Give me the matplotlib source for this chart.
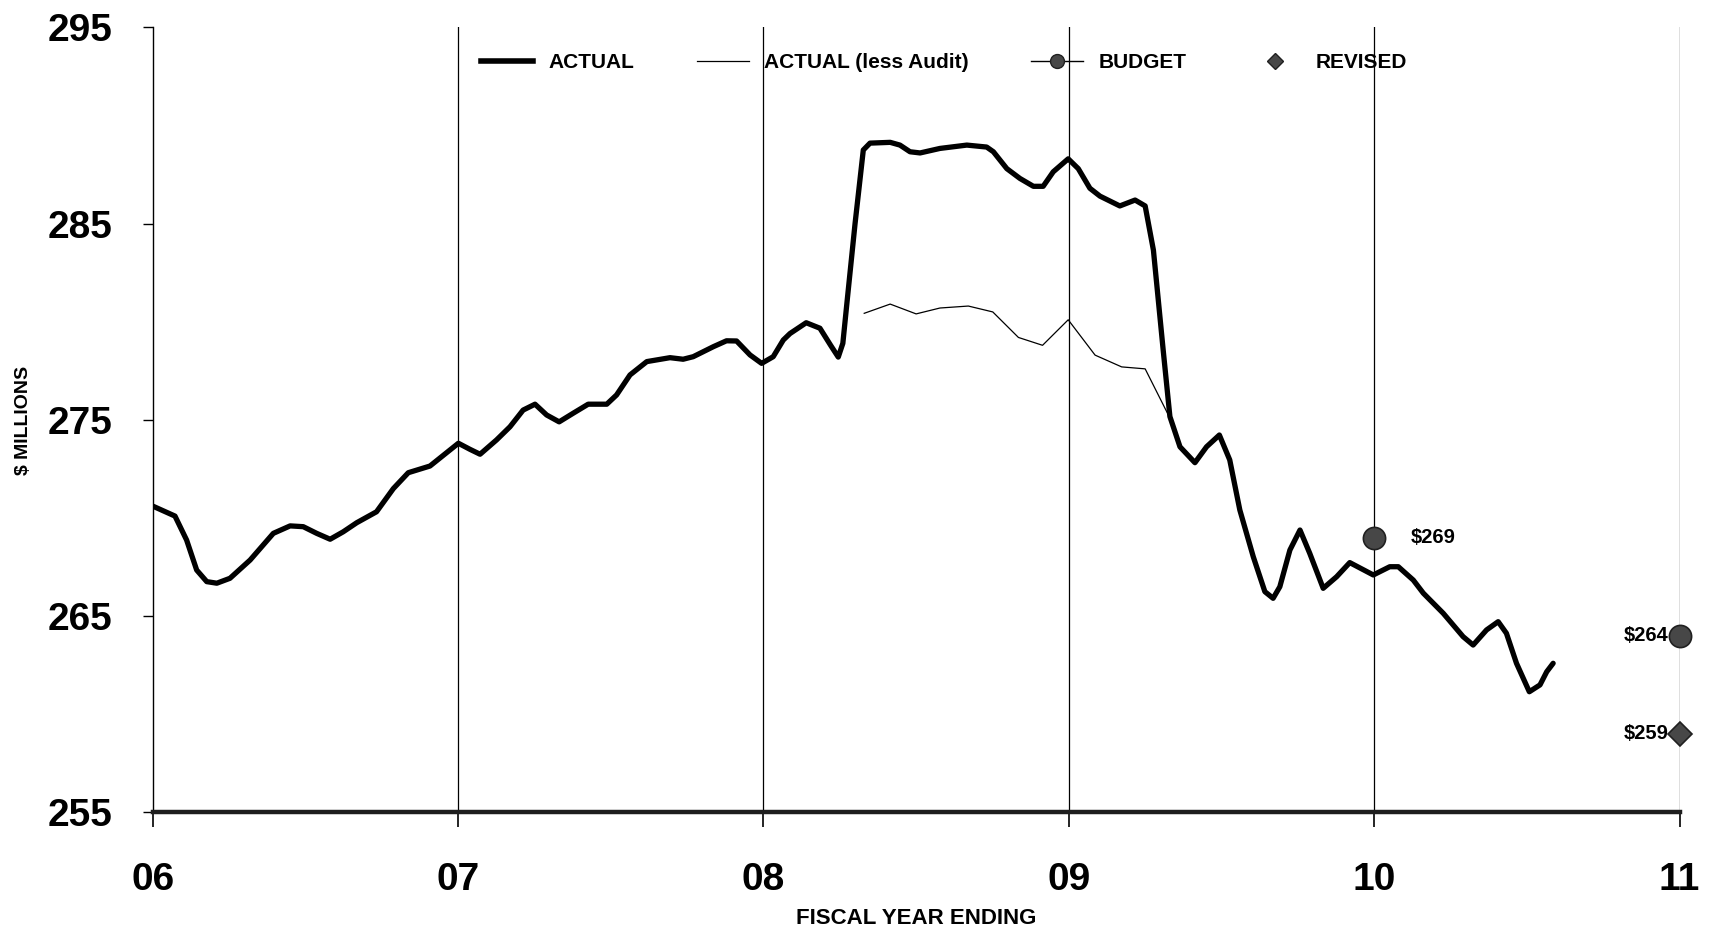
import matplotlib
matplotlib.use("Agg")
import matplotlib.pyplot as plt
from matplotlib.lines import Line2D

plt.rcParams['font.family'] = ['Liberation Sans', 'DejaVu Sans']

# fiscal year (06 = 2006) and $ millions
actual_t = [6.000, 6.073, 6.111, 6.144, 6.177, 6.210, 6.253, 6.319, 6.395, 6.450,
            6.493, 6.537, 6.581, 6.624, 6.668, 6.733, 6.788, 6.837, 6.908, 7.001,
            7.039, 7.072, 7.126, 7.170, 7.213, 7.252, 7.290, 7.331, 7.377, 7.426,
            7.487, 7.519, 7.563, 7.618, 7.694, 7.737, 7.770, 7.836, 7.879, 7.912,
            7.956, 7.994, 8.032, 8.065, 8.087, 8.140, 8.185, 8.220, 8.245, 8.260,
            8.273, 8.300, 8.327, 8.349, 8.415, 8.447, 8.480, 8.513, 8.578, 8.666,
            8.731, 8.753, 8.797, 8.840, 8.884, 8.916, 8.949, 8.998, 9.031, 9.069,
            9.102, 9.167, 9.217, 9.250, 9.277, 9.309, 9.331, 9.364, 9.413, 9.451,
            9.493, 9.527, 9.560, 9.604, 9.642, 9.669, 9.691, 9.724, 9.757, 9.789,
            9.833, 9.877, 9.920, 9.997, 10.051, 10.079, 10.128, 10.161, 10.226, 10.291,
            10.324, 10.368, 10.406, 10.433, 10.466, 10.508, 10.543, 10.565, 10.586]
actual_v = [270.61, 270.10, 268.88, 267.35, 266.76, 266.68, 266.93, 267.86, 269.22, 269.60,
            269.56, 269.22, 268.92, 269.30, 269.76, 270.32, 271.50, 272.31, 272.65, 273.81,
            273.50, 273.25, 273.98, 274.65, 275.50, 275.80, 275.25, 274.90, 275.34, 275.80,
            275.80, 276.27, 277.29, 277.97, 278.17, 278.09, 278.22, 278.73, 279.03, 279.02,
            278.31, 277.88, 278.22, 279.07, 279.40, 279.95, 279.67, 278.80, 278.20, 278.90,
            280.90, 285.00, 288.75, 289.10, 289.14, 289.00, 288.66, 288.60, 288.83, 289.00,
            288.90, 288.66, 287.80, 287.30, 286.90, 286.90, 287.64, 288.30, 287.80, 286.80,
            286.40, 285.90, 286.20, 285.90, 283.65, 278.56, 275.17, 273.63, 272.82, 273.63,
            274.23, 272.96, 270.41, 268.03, 266.25, 265.91, 266.50, 268.37, 269.39, 268.20,
            266.42, 267.01, 267.73, 267.10, 267.52, 267.52, 266.84, 266.17, 265.15, 263.96,
            263.53, 264.30, 264.72, 264.13, 262.60, 261.15, 261.50, 262.17, 262.60]

less_audit_t = [8.330, 8.415, 8.500, 8.578, 8.671, 8.751, 8.835, 8.914, 8.998,
                9.086, 9.173, 9.250, 9.326]
less_audit_v = [280.43, 280.90, 280.40, 280.70, 280.80, 280.50, 279.20, 278.80, 280.10,
                278.30, 277.70, 277.60, 275.25]

budget_t = [10, 11]
budget_v = [269, 264]
revised_t = [11]
revised_v = [259]

year_ticks = [6, 7, 8, 9, 10, 11]
year_labels = ["06", "07", "08", "09", "10", "11"]
y_ticks = [255, 265, 275, 285, 295]

fig = plt.figure(figsize=(17.1, 9.26), dpi=100)
ax = fig.add_axes([0.0893, 0.1226, 0.8929, 0.8479])

for t in year_ticks[1:]:
    ax.axvline(t, color="black", lw=0.9, zorder=1)

ax.plot(actual_t, actual_v, color="black", lw=3.8, solid_capstyle="round",
        solid_joinstyle="round", zorder=3)
ax.plot(less_audit_t, less_audit_v, color="black", lw=0.9, zorder=3)
ax.plot(budget_t, budget_v, ls="none", marker="o", ms=16, mfc="#474747",
        mec="#202020", mew=1.2, zorder=4, clip_on=False)
ax.plot(revised_t, revised_v, ls="none", marker="D", ms=12, mfc="#474747",
        mec="#202020", mew=1.2, zorder=4, clip_on=False)

ax.text(budget_t[0] + 0.12, budget_v[0], "$%d" % budget_v[0], fontsize=14.5,
        fontweight="bold", va="center", ha="left")
ax.text(budget_t[1] - 0.035, budget_v[1], "$%d" % budget_v[1], fontsize=14.5,
        fontweight="bold", va="center", ha="right")
ax.text(revised_t[0] - 0.035, revised_v[0], "$%d" % revised_v[0], fontsize=14.5,
        fontweight="bold", va="center", ha="right")

ax.set_xlim(6, 11)
ax.set_ylim(255, 295)
ax.set_xticks(year_ticks)
ax.set_xticklabels(year_labels)
ax.set_yticks(y_ticks)
ax.set_yticklabels([str(v) for v in y_ticks])

for lab in ax.get_xticklabels() + ax.get_yticklabels():
    lab.set_fontsize(28)
    lab.set_fontweight("bold")

ax.tick_params(axis="x", direction="out", length=11, width=1.2, pad=25)
ax.tick_params(axis="y", direction="out", length=7, width=1, pad=22)

ax.spines["top"].set_visible(False)
ax.spines["right"].set_visible(False)
ax.spines["left"].set_linewidth(1.0)
ax.spines["bottom"].set_linewidth(3.2)
ax.spines["bottom"].set_color("#1e1e1e")

ax.set_xlabel("FISCAL YEAR ENDING", fontsize=16, fontweight="bold", labelpad=7)
fig.text(24 / 1710, 1 - 420 / 926, "$ MILLIONS", rotation=90, fontsize=14,
         fontweight="bold", ha="center", va="center")

handles = [
    Line2D([], [], color="black", lw=4),
    Line2D([], [], color="black", lw=0.9),
    Line2D([], [], color="black", lw=1, marker="o", ms=10, mfc="#474747", mec="#202020"),
    Line2D([], [], ls="none", marker="D", ms=8, mfc="#474747", mec="#202020"),
]
labels = ["ACTUAL", "ACTUAL (less Audit)", "BUDGET", "REVISED"]
leg = ax.legend(handles, labels, ncol=4, frameon=False, loc="center left",
                bbox_to_anchor=(0.203, 0.955), prop={"size": 15, "weight": "bold"},
                handlelength=2.5, handletextpad=0.72, columnspacing=3.0)
leg.set_zorder(5)

fig.savefig("out.png", dpi=100)
